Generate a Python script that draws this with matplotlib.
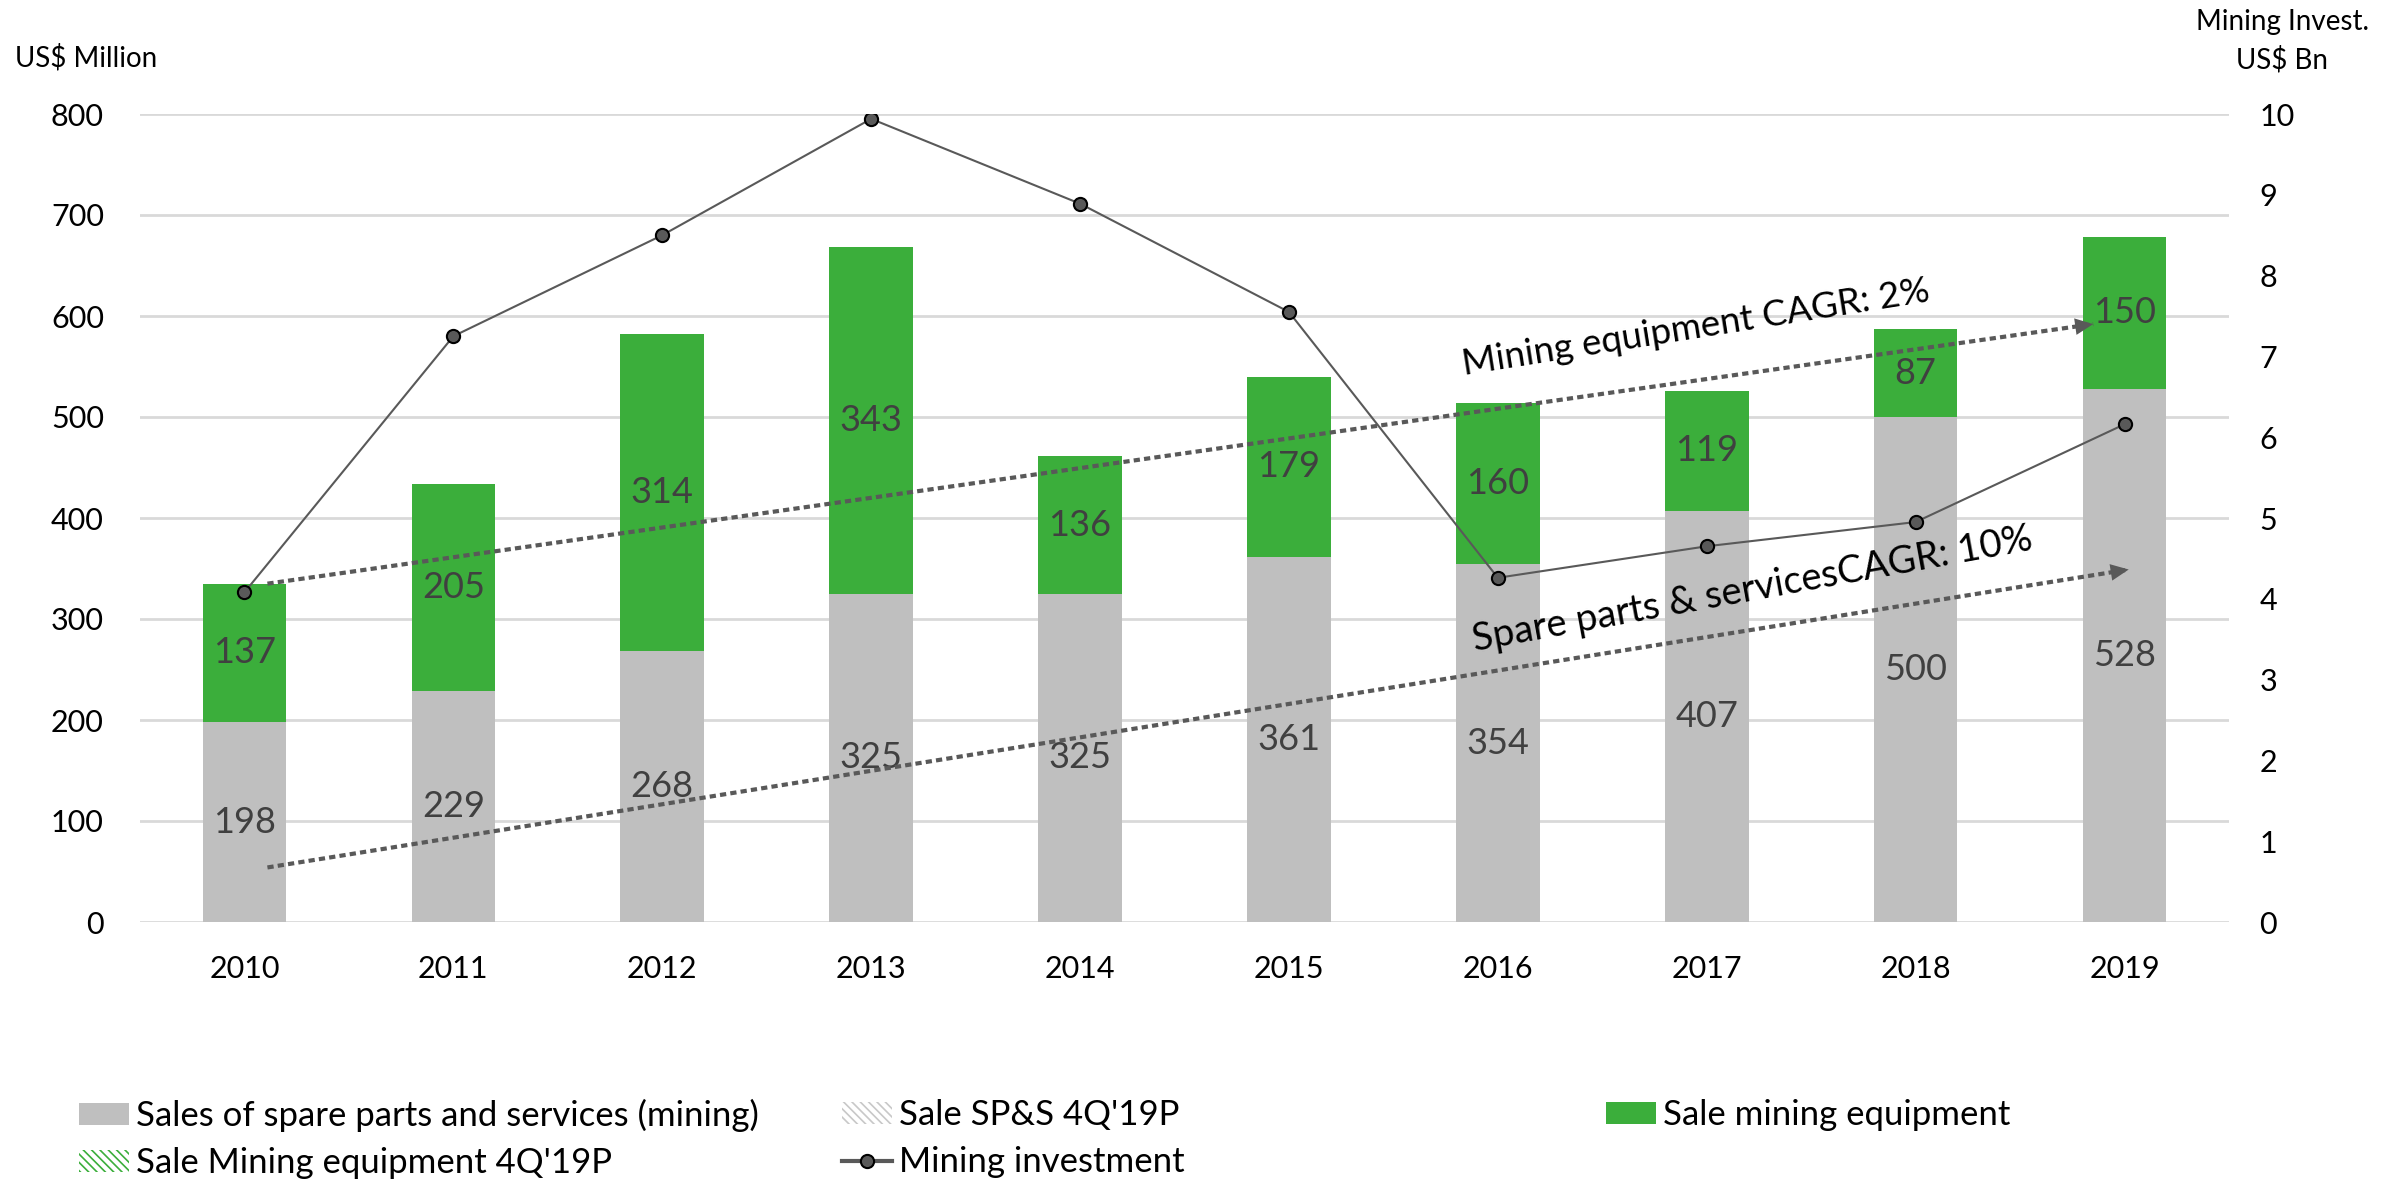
import matplotlib.pyplot as plt
import matplotlib.patches as mpatches
from matplotlib.lines import Line2D
import numpy as np

plt.rcParams['font.family'] = ['Lato', 'DejaVu Sans']
plt.rcParams['hatch.linewidth'] = 1.2

# Datos
years = ['2010', '2011', '2012', '2013', '2014', '2015', '2016', '2017', '2018', '2019']
spare_parts = [198, 229, 268, 325, 325, 361, 354, 407, 500, 528]
mining_equipment = [137, 205, 314, 343, 136, 179, 160, 119, 87, 150]
mining_investment = [4.08, 7.25, 8.50, 9.94, 8.89, 7.55, 4.26, 4.65, 4.95, 6.16]

# Flechas de tendencia (inicio, fin) en coordenadas del eje izquierdo
me_arrow = ((0.11, 335), (8.85, 592))
sp_arrow = ((0.11, 54), (9.02, 349))

GREY = '#bfbfbf'
GREEN = '#3bae3b'
DARK = '#595959'
LABEL = '#404040'
GRID = '#d9d9d9'

fig = plt.figure(figsize=(23.86, 11.81), dpi=100)
ax = fig.add_axes([140 / 2386, 1 - 922 / 1181, (2229 - 140) / 2386, (922 - 114) / 1181])

x = np.arange(len(years))
b1 = ax.bar(x, spare_parts, width=0.4, color=GREY, zorder=2)
b2 = ax.bar(x, mining_equipment, width=0.4, bottom=spare_parts, color=GREEN, zorder=2)
ax.bar_label(b1, label_type='center', fontsize=26, color=LABEL)
ax.bar_label(b2, label_type='center', fontsize=26, color=LABEL)

ax.set_xlim(-0.5, 9.5)
ax.set_ylim(0, 800)
ax.set_yticks(range(0, 801, 100))
ax.set_xticks(x, years)
ax.yaxis.grid(True, color=GRID, lw=2, zorder=0)
ax.set_axisbelow(True)
for s in ax.spines.values():
    s.set_visible(False)
ax.tick_params(axis='y', length=0, labelsize=22, pad=26)
ax.tick_params(axis='x', length=0, labelsize=22, pad=24)

# Eje derecho: inversión minera
ax2 = ax.twinx()
ax2.set_ylim(0, 10)
ax2.set_yticks(range(0, 11))
for s in ax2.spines.values():
    s.set_visible(False)
ax2.tick_params(axis='y', length=0, labelsize=22, pad=22)
ax2.plot(x, mining_investment, color=DARK, lw=1.5, marker='o', markersize=9.5,
         markerfacecolor=DARK, markeredgecolor='black', markeredgewidth=1.5, zorder=4)

# Flechas punteadas y textos CAGR
for (x0, y0), (x1, y1) in [me_arrow, sp_arrow]:
    ax.plot([x0, x1], [y0, y1], ls=(0, (1.5, 1.0)), lw=3, color=DARK,
            dash_capstyle='butt', zorder=5)
    ax.annotate('', xy=(x1, y1), xytext=(x0, y0),
                arrowprops=dict(arrowstyle='-|>,head_length=1.3,head_width=0.6',
                                color=DARK, lw=0, shrinkA=0, shrinkB=0,
                                mutation_scale=10), zorder=5)

ax.text(6.95, 588, 'Mining equipment CAGR: 2%', rotation=9.0, rotation_mode='anchor',
        ha='center', va='center', fontsize=26.5, color='black', zorder=6)
ax.text(7.22, 329, 'Spare parts & servicesCAGR: 10%', rotation=10.3, rotation_mode='anchor',
        ha='center', va='center', fontsize=27.5, color='black', zorder=6)

# Títulos de ejes
fig.text(15 / 2386, 1 - 58 / 1181, 'US$ Million', fontsize=20, ha='left', va='center')
fig.text(2282 / 2386, 1 - 22 / 1181, 'Mining Invest.', fontsize=20, ha='center', va='center')
fig.text(2282 / 2386, 1 - 60 / 1181, 'US$ Bn', fontsize=20, ha='center', va='center')

# Leyenda
h_sp = mpatches.Patch(facecolor=GREY, label='Sales of spare parts and services (mining)')
h_sp_p = mpatches.Patch(facecolor='white', edgecolor='#c8c8c8', hatch='\\\\\\\\', lw=0,
                        label="Sale SP&S 4Q'19P")
h_me = mpatches.Patch(facecolor=GREEN, label='Sale mining equipment')
h_me_p = mpatches.Patch(facecolor='white', edgecolor=GREEN, hatch='\\\\\\\\', lw=0,
                        label="Sale Mining equipment 4Q'19P")
h_inv = Line2D([], [], color=DARK, lw=3, marker='o', markersize=9.5, markerfacecolor=DARK,
               markeredgecolor='black', markeredgewidth=1.5, label='Mining investment')

cols = [([h_sp, h_me_p], 79), ([h_sp_p, h_inv], 842), ([h_me], 1606)]
for handles, px in cols:
    leg = fig.legend(handles=handles, loc='upper left', bbox_to_anchor=(px / 2386, 1 - 1099 / 1181),
                     frameon=False, fontsize=25, borderpad=0, borderaxespad=0,
                     handlelength=1.45, handleheight=0.62, handletextpad=0.2, labelspacing=0.44)

plt.savefig('out.png', dpi=100)
